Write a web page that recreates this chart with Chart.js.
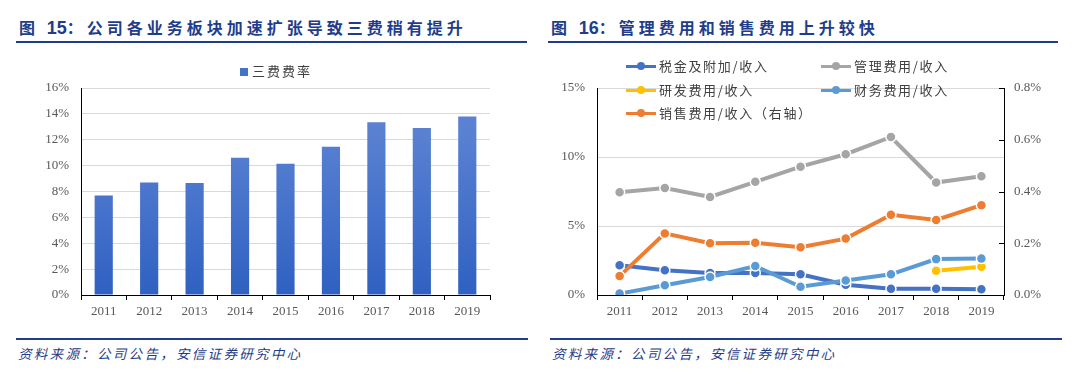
<!DOCTYPE html>
<html><head><meta charset="utf-8">
<script src="https://cdn.jsdelivr.net/npm/chart.js@4.4.1/dist/chart.umd.min.js"></script>
<style>
html,body{margin:0;padding:0;background:#fff;width:1080px;height:386px;overflow:hidden;position:relative;font-family:"Noto Sans CJK SC",sans-serif;}
.title{position:absolute;top:16px;font-size:16px;font-weight:bold;color:#1f3d8a;letter-spacing:4px;white-space:nowrap;line-height:22px;}
.title b{font-family:"Liberation Sans",Arial,sans-serif;font-size:18px;letter-spacing:0;}
.hline{position:absolute;height:2px;background:#1f3d8a;}
.src{position:absolute;top:343px;font-size:13.5px;font-style:italic;color:#1f3d8a;letter-spacing:2.3px;white-space:nowrap;line-height:20px;}
canvas{position:absolute;top:0;}
.leg{position:absolute;font-size:13px;color:#404040;white-space:nowrap;line-height:16px;letter-spacing:1.7px;}
.mk{position:absolute;width:30px;height:3px;}
.dot{position:absolute;width:8px;height:8px;border-radius:50%;}
.sq{position:absolute;width:8px;height:8px;background:#4472c4;}
</style></head>
<body>
<div class="title" style="left:19px;">图 <b>15</b>：公司各业务板块加速扩张导致三费稍有提升</div>
<div class="hline" style="left:16px;width:511px;top:41px;"></div>
<div class="title" style="left:551px;">图 <b>16</b>：管理费用和销售费用上升较快</div>
<div class="hline" style="left:548px;width:510px;top:41px;"></div>

<div class="hline" style="left:16px;width:512px;top:338px;"></div>
<div class="hline" style="left:550px;width:512px;top:338px;"></div>
<div class="src" style="left:18px;">资料来源：公司公告，安信证券研究中心</div>
<div class="src" style="left:552px;">资料来源：公司公告，安信证券研究中心</div>

<canvas id="c1" width="540" height="386" style="left:0;"></canvas>
<canvas id="c2" width="540" height="386" style="left:540px;"></canvas>
<div id="leg1"></div>
<div id="leg2"></div>

<script>
// ---------- data ----------
const years = ['2011','2012','2013','2014','2015','2016','2017','2018','2019'];
const sanfeiRate = [7.7, 8.7, 8.65, 10.6, 10.15, 11.45, 13.35, 12.9, 13.8];
const barLabel = '三费费率';

const taxRate   = [2.15, 1.8, 1.6, 1.6, 1.5, 0.75, 0.45, 0.45, 0.42];
const adminRate = [7.45, 7.75, 7.1, 8.2, 9.3, 10.2, 11.45, 8.15, 8.6];
const rdRate    = [null, null, null, null, null, null, null, 1.75, 2.05];
const finRate   = [0.1, 0.7, 1.3, 2.1, 0.6, 1.05, 1.5, 2.6, 2.65];
const salesRate = [0.073, 0.238, 0.2, 0.202, 0.185, 0.218, 0.31, 0.29, 0.347];
const seriesNames = ['税金及附加/收入','管理费用/收入','研发费用/收入','财务费用/收入','销售费用/收入（右轴）'];

const leftTicks1 = [0,2,4,6,8,10,12,14,16];
const leftTicks2 = [0,5,10,15];
const rightTicks2 = [0,0.2,0.4,0.6,0.8];

// ---------- styles ----------
const tickFont = {family:'"Liberation Serif","Times New Roman",serif', size:13};
const tickColor = '#595959';
const gridColor = '#d9d9d9';

// ---------- chart 1 ----------
new Chart(document.getElementById('c1'), {
  type:'bar',
  data:{labels:years, datasets:[{
    label:barLabel, data:sanfeiRate,
    backgroundColor:(ctx)=>{
      const ca = ctx.chart.chartArea;
      if(!ca) return '#3f6cc8';
      const g = ctx.chart.ctx.createLinearGradient(0, ca.top+40, 0, ca.bottom);
      g.addColorStop(0,'#5b82d2'); g.addColorStop(1,'#2f61c2');
      return g;
    },
    barPercentage:0.8, categoryPercentage:0.5
  }]},
  options:{
    responsive:false, animation:false,
    layout:{padding:{left:0,right:50,top:88,bottom:61}},
    plugins:{legend:{display:false}, tooltip:{enabled:false}},
    scales:{
      x:{offset:true,
        grid:{offset:true,drawOnChartArea:false,drawTicks:true,tickLength:5,color:'#000'},
        border:{display:true,color:'#000',width:1},
        ticks:{font:tickFont,color:tickColor,padding:4,maxRotation:0},
        afterFit:(s)=>{s.height=30;}
      },
      y:{min:0,max:16,
        afterBuildTicks:(s)=>{s.ticks=leftTicks1.map(v=>({value:v}));},
        grid:{color:gridColor,drawTicks:false},
        border:{display:true,color:'#000',width:1},
        ticks:{font:tickFont,color:tickColor,padding:12,callback:(v)=>v+'%'},
        afterFit:(s)=>{s.width=81;}
      }
    }
  }
});

// ---------- chart 2 ----------
const rightTickPlugin = {
  id:'rightTick',
  afterDraw(chart){
    const s = chart.scales.y2, c = chart.ctx;
    c.save(); c.strokeStyle='#000'; c.lineWidth=1;
    rightTicks2.forEach(v=>{
      const y = Math.round(s.getPixelForValue(v))+0.5;
      c.beginPath(); c.moveTo(chart.chartArea.right-5,y); c.lineTo(chart.chartArea.right,y); c.stroke();
    });
    c.restore();
  }
};
const colors = ['#4472c4','#a5a5a5','#ffc000','#5b9bd5','#ed7d31'];
const dataArr = [taxRate, adminRate, rdRate, finRate, salesRate];
const orders = [4,3,2,1,0];
const ds = dataArr.map((d,i)=>({
  label:seriesNames[i], data:d, yAxisID: i===4?'y2':'y',
  borderColor:colors[i], backgroundColor:colors[i], borderWidth:4,
  pointRadius:5, pointBorderColor:'#fff', pointBorderWidth:1.5,
  pointBackgroundColor:colors[i], tension:0, order:orders[i], spanGaps:false
}));
new Chart(document.getElementById('c2'), {
  type:'line',
  data:{labels:years, datasets:ds},
  options:{
    responsive:false, animation:false,
    layout:{padding:{left:0,right:0,top:88,bottom:61}},
    plugins:{legend:{display:false}, tooltip:{enabled:false}},
    scales:{
      x:{offset:true,
        grid:{offset:true,drawOnChartArea:false,drawTicks:true,tickLength:5,color:'#000'},
        border:{display:true,color:'#000',width:1},
        ticks:{font:tickFont,color:tickColor,padding:4,maxRotation:0},
        afterFit:(s)=>{s.height=30;}
      },
      y:{position:'left',min:0,max:15,
        afterBuildTicks:(s)=>{s.ticks=leftTicks2.map(v=>({value:v}));},
        grid:{color:gridColor,drawTicks:false},
        border:{display:true,color:'#000',width:1},
        ticks:{font:tickFont,color:tickColor,padding:12,callback:(v)=>v+'%'},
        afterFit:(s)=>{s.width=57;}
      },
      y2:{position:'right',min:0,max:0.8,
        afterBuildTicks:(s)=>{s.ticks=rightTicks2.map(v=>({value:v}));},
        grid:{drawOnChartArea:false,drawTicks:false},
        border:{display:true,color:'#000',width:1},
        ticks:{font:tickFont,color:tickColor,padding:10,callback:(v)=>Number(v).toFixed(1)+'%'},
        afterFit:(s)=>{s.width=76;}
      }
    }
  },
  plugins:[rightTickPlugin]
});

// ---------- HTML legends ----------
(function(){
  const l1 = document.getElementById('leg1');
  l1.innerHTML = '<div class="sq" style="left:240px;top:68px;"></div>'+
    '<div class="leg" style="left:252px;top:63px;letter-spacing:2px;">'+barLabel+'</div>';
  const pos = [[626,66],[821,66],[626,90],[821,90],[626,113]];
  let h='';
  seriesNames.forEach((n,i)=>{
    const [x,y]=pos[i];
    h+='<div class="mk" style="left:'+x+'px;top:'+(y-1)+'px;background:'+colors[i]+'"></div>';
    h+='<div class="dot" style="left:'+(x+11)+'px;top:'+(y-4)+'px;background:'+colors[i]+'"></div>';
    h+='<div class="leg" style="left:'+(x+33)+'px;top:'+(y-8)+'px;">'+n+'</div>';
  });
  document.getElementById('leg2').innerHTML=h;
})();
</script>
</body></html>
